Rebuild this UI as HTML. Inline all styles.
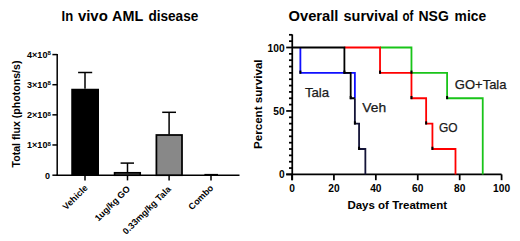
<!DOCTYPE html>
<html><head><meta charset="utf-8"><style>
html,body{margin:0;padding:0;background:#fff;width:520px;height:241px;overflow:hidden}
svg{display:block}
text{font-family:"Liberation Sans",sans-serif}
</style></head><body>
<svg width="520" height="241" viewBox="0 0 520 241">
<rect width="520" height="241" fill="#fff"/>
<!-- titles -->
<g font-size="14" font-weight="bold" fill="#000">
<text x="61.60" y="20.6" textLength="11.62" lengthAdjust="spacingAndGlyphs">In</text>
<text x="77.90" y="20.6" textLength="29.92" lengthAdjust="spacingAndGlyphs">vivo</text>
<text x="112.10" y="20.6" textLength="31.14" lengthAdjust="spacingAndGlyphs">AML</text>
<text x="148.40" y="20.6" textLength="49.86" lengthAdjust="spacingAndGlyphs">disease</text>
<text x="288.50" y="20.6" textLength="49.91" lengthAdjust="spacingAndGlyphs">Overall</text>
<text x="343.50" y="20.6" textLength="54.77" lengthAdjust="spacingAndGlyphs">survival</text>
<text x="402.50" y="20.6" textLength="10.86" lengthAdjust="spacingAndGlyphs">of</text>
<text x="418.50" y="20.6" textLength="30.34" lengthAdjust="spacingAndGlyphs">NSG</text>
<text x="454.60" y="20.6" textLength="31.52" lengthAdjust="spacingAndGlyphs">mice</text>
</g>


<!-- LEFT CHART -->
<g stroke="#000" stroke-width="1.5" fill="none">
<line x1="57.2" y1="53.9" x2="57.2" y2="175.9"/>
<line x1="56.5" y1="175.3" x2="239.5" y2="175.3"/>
<line x1="52.4" y1="54.58" x2="57.2" y2="54.58"/>
<line x1="52.4" y1="84.71" x2="57.2" y2="84.71"/>
<line x1="52.4" y1="114.84" x2="57.2" y2="114.84"/>
<line x1="52.4" y1="144.97" x2="57.2" y2="144.97"/>
<line x1="52.4" y1="175.2" x2="57.2" y2="175.2"/>
<line x1="85" y1="175.2" x2="85" y2="180.4"/>
<line x1="127.5" y1="175.2" x2="127.5" y2="180.4"/>
<line x1="169.1" y1="175.2" x2="169.1" y2="180.4"/>
<line x1="211" y1="175.2" x2="211" y2="180.4"/>
<!-- error bars -->
<line x1="85" y1="88.8" x2="85" y2="72.5"/>
<line x1="78.1" y1="72.5" x2="92.2" y2="72.5"/>
<line x1="127.5" y1="172" x2="127.5" y2="163.1"/>
<line x1="120.6" y1="163.1" x2="134" y2="163.1"/>
<line x1="169.1" y1="134.5" x2="169.1" y2="112.3"/>
<line x1="162.2" y1="112.3" x2="176" y2="112.3"/>
</g>
<!-- bars -->
<rect x="71.25" y="88.75" width="27.75" height="86.5" fill="#000"/>
<rect x="114.6" y="172.8" width="25.6" height="2.4" fill="#666" stroke="#000" stroke-width="1.7"/>
<rect x="156.4" y="135" width="25.6" height="40.2" fill="#888" stroke="#000" stroke-width="1.75"/>
<line x1="204.4" y1="174.5" x2="218" y2="174.5" stroke="#000" stroke-width="1.2"/>

<g font-size="9" font-weight="bold" fill="#000">
<text x="47.4" y="57.58" text-anchor="end">4×10</text><text x="47.5" y="55.28" font-size="6">8</text>
<text x="47.4" y="87.71" text-anchor="end">3×10</text><text x="47.5" y="85.41" font-size="6">8</text>
<text x="47.4" y="117.84" text-anchor="end">2×10</text><text x="47.5" y="115.54" font-size="6">8</text>
<text x="47.4" y="147.97" text-anchor="end">1×10</text><text x="47.5" y="145.67" font-size="6">8</text>
<text x="50.1" y="178.7" text-anchor="end">0</text>
</g>
<text transform="translate(20.2 167.5) rotate(-90)" font-size="10.6" font-weight="bold" fill="#000">Total flux (photons/s)</text>
<g font-size="9.0" font-weight="bold" fill="#000" text-anchor="end">
<text transform="translate(88.3 188.5) rotate(-45)">Vehicle</text>
<text transform="translate(130.7 189.5) rotate(-45)">1ug/kg GO</text>
<text transform="translate(171.5 189.8) rotate(-45)">0.33mg/kg Tala</text>
<text transform="translate(214 188.5) rotate(-45)">Combo</text>
</g>

<!-- RIGHT CHART -->
<g stroke="#000" stroke-width="1.75" fill="none">
<line x1="292.25" y1="34.4" x2="292.25" y2="180.2"/>
<line x1="286.2" y1="174.4" x2="501.6" y2="174.4"/>
<line x1="286.2" y1="174.40" x2="292.25" y2="174.40"/><line x1="289" y1="168.06" x2="292.25" y2="168.06"/><line x1="289" y1="161.71" x2="292.25" y2="161.71"/><line x1="289" y1="155.37" x2="292.25" y2="155.37"/><line x1="289" y1="149.02" x2="292.25" y2="149.02"/><line x1="289" y1="142.68" x2="292.25" y2="142.68"/><line x1="289" y1="136.33" x2="292.25" y2="136.33"/><line x1="289" y1="129.99" x2="292.25" y2="129.99"/><line x1="289" y1="123.64" x2="292.25" y2="123.64"/><line x1="289" y1="117.30" x2="292.25" y2="117.30"/><line x1="286.2" y1="110.95" x2="292.25" y2="110.95"/><line x1="289" y1="104.61" x2="292.25" y2="104.61"/><line x1="289" y1="98.26" x2="292.25" y2="98.26"/><line x1="289" y1="91.92" x2="292.25" y2="91.92"/><line x1="289" y1="85.57" x2="292.25" y2="85.57"/><line x1="289" y1="79.23" x2="292.25" y2="79.23"/><line x1="289" y1="72.88" x2="292.25" y2="72.88"/><line x1="289" y1="66.54" x2="292.25" y2="66.54"/><line x1="289" y1="60.19" x2="292.25" y2="60.19"/><line x1="289" y1="53.85" x2="292.25" y2="53.85"/><line x1="286.2" y1="47.50" x2="292.25" y2="47.50"/><line x1="289" y1="41.16" x2="292.25" y2="41.16"/><line x1="289" y1="34.81" x2="292.25" y2="34.81"/>
<line x1="292.00" y1="174.4" x2="292.00" y2="180.2"/><line x1="333.92" y1="174.4" x2="333.92" y2="180.2"/><line x1="375.84" y1="174.4" x2="375.84" y2="180.2"/><line x1="417.76" y1="174.4" x2="417.76" y2="180.2"/><line x1="459.68" y1="174.4" x2="459.68" y2="180.2"/><line x1="501.60" y1="174.4" x2="501.60" y2="180.2"/>
</g>
<g font-size="10.2" font-weight="bold" fill="#000">
<text x="284.6" y="51.9" text-anchor="end">100</text>
<text x="284.6" y="114.9" text-anchor="end">50</text>
<text x="284.6" y="178.1" text-anchor="end">0</text>
<text x="292.00" y="192.4" text-anchor="middle">0</text><text x="333.92" y="192.4" text-anchor="middle">20</text><text x="375.84" y="192.4" text-anchor="middle">40</text><text x="417.76" y="192.4" text-anchor="middle">60</text><text x="459.68" y="192.4" text-anchor="middle">80</text><text x="501.60" y="192.4" text-anchor="middle">100</text>
</g>
<text x="347.4" y="209.2" font-size="11.5" font-weight="bold" fill="#000">Days of Treatment</text>
<text transform="translate(261.6 149) rotate(-90)" font-size="11.6" font-weight="bold" fill="#000">Percent survival</text>

<g fill="none" stroke-width="1.8" stroke-linejoin="miter" stroke-linecap="butt">
<path d="M380.03 47.50 L411.47 47.50 L411.47 72.88 L447.10 72.88 L447.10 98.26 L482.74 98.26 L482.74 174.40" stroke="#19c419"/>
<path d="M344.40 47.50 L380.03 47.50 L380.03 72.88 L411.47 72.88 L411.47 98.26 L426.14 98.26 L426.14 123.64 L432.43 123.64 L432.43 149.02 L455.49 149.02 L455.49 174.40" stroke="#ff0000"/>
<path d="M300.38 47.50 L300.38 72.88 L354.88 72.88 L354.88 98.26" stroke="#1010ff"/>
<path d="M292.00 47.50 L344.40 47.50 L344.40 72.88 L350.69 72.88 L350.69 98.26 L354.88 98.26" stroke="#000"/>
<path d="M354.88 98.26 L354.88 123.64 L359.07 123.64 L359.07 149.02 L365.36 149.02 L365.36 174.40" stroke="#141438"/>
</g>
<rect x="299.38" y="70.58" width="2" height="3.2" fill="#000"/><rect x="343.40" y="70.58" width="2" height="3.2" fill="#000"/><rect x="349.69" y="95.96" width="2" height="3.2" fill="#000"/><rect x="353.88" y="121.34" width="2" height="3.2" fill="#000"/><rect x="358.07" y="146.72" width="2" height="3.2" fill="#000"/><rect x="379.03" y="70.58" width="2" height="3.2" fill="#000"/><rect x="410.47" y="95.96" width="2" height="3.2" fill="#000"/><rect x="425.14" y="121.34" width="2" height="3.2" fill="#000"/><rect x="431.43" y="146.72" width="2" height="3.2" fill="#000"/><rect x="410.47" y="70.58" width="2" height="3.2" fill="#000"/><rect x="446.10" y="95.96" width="2" height="3.2" fill="#000"/>
<g font-size="13" fill="#1a1a1a" stroke="#1a1a1a" stroke-width="0.25">
<text x="304.9" y="97.1" textLength="24.3" lengthAdjust="spacingAndGlyphs">Tala</text>
<text x="362.3" y="111.6" textLength="23.8" lengthAdjust="spacingAndGlyphs">Veh</text>
<text x="438.9" y="131.5" textLength="18.6" lengthAdjust="spacingAndGlyphs">GO</text>
<text x="454.8" y="88.7" textLength="51.7" lengthAdjust="spacingAndGlyphs">GO+Tala</text>
</g>
</svg>
</body></html>
